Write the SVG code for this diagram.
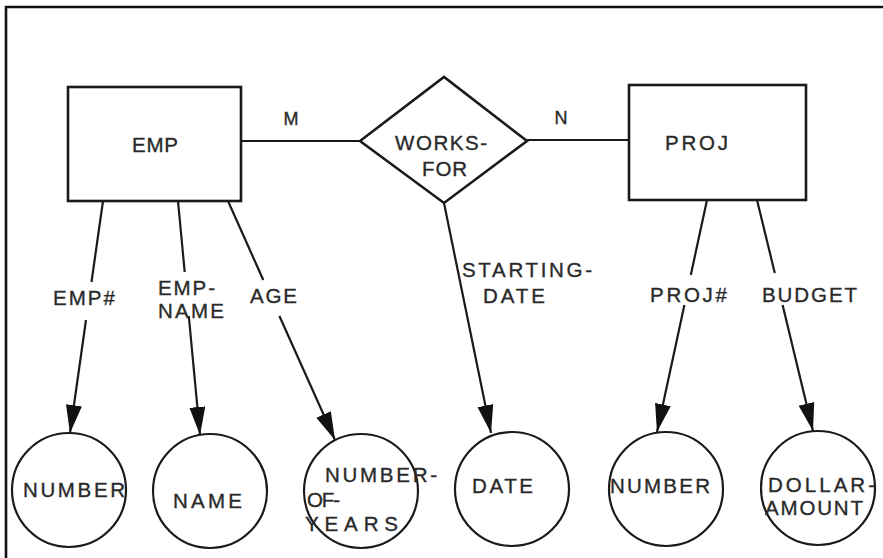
<svg xmlns="http://www.w3.org/2000/svg" width="883" height="558" viewBox="0 0 883 558">
  <style>
    .box { fill: #fff; stroke: #1a1a1a; stroke-width: 2.6; }
    .attr { fill: #fff; stroke: #1a1a1a; stroke-width: 2.2; }
    .edge { fill: none; stroke: #1a1a1a; stroke-width: 2.2; }
    .frame { fill: none; stroke: #111; stroke-width: 2.6; }
    text { font-family: "Liberation Sans", Arial, sans-serif; font-size: 20.5px; fill: #2a2a2a; stroke: #2a2a2a; stroke-width: 0.35; }
    .card { font-size: 18px; }
  </style>
  <defs>
    <marker id="arrow" markerUnits="userSpaceOnUse" markerWidth="30" markerHeight="18" refX="28" refY="8" orient="auto">
      <path d="M0,0 L28,8 L0,16 z" fill="#111"/>
    </marker>
  </defs>
  <rect width="883" height="558" fill="#fff"/>
  <!-- page frame -->
  <path class="frame" d="M6,558 L6,7 L883,7"/>

  <!-- connectors -->
  <g id="connectors">
    <line class="edge" x1="241" y1="141" x2="360" y2="141"/>
    <line class="edge" x1="527" y1="140" x2="629" y2="140"/>
    <!-- EMP# -->
    <line class="edge" x1="103" y1="201" x2="91.5" y2="282"/>
    <line class="edge" x1="86" y1="320" x2="70" y2="433" marker-end="url(#arrow)"/>
    <!-- EMP-NAME -->
    <line class="edge" x1="178" y1="201" x2="184.7" y2="272"/>
    <line class="edge" x1="188.8" y1="316" x2="200" y2="435" marker-end="url(#arrow)"/>
    <!-- AGE -->
    <line class="edge" x1="228" y1="201" x2="263.3" y2="280"/>
    <line class="edge" x1="279.4" y1="316" x2="335" y2="440" marker-end="url(#arrow)"/>
    <!-- STARTING-DATE -->
    <line class="edge" x1="444" y1="203" x2="491" y2="433" marker-end="url(#arrow)"/>
    <!-- PROJ# -->
    <line class="edge" x1="707" y1="200" x2="690.8" y2="275"/>
    <line class="edge" x1="684.4" y1="305" x2="657" y2="432" marker-end="url(#arrow)"/>
    <!-- BUDGET -->
    <line class="edge" x1="757" y1="200" x2="774.8" y2="273"/>
    <line class="edge" x1="782.6" y1="305" x2="813" y2="431" marker-end="url(#arrow)"/>
    <!-- cardinalities and attribute names -->
    <text class="card" x="291" y="125" text-anchor="middle">M</text>
    <text class="card" x="561" y="124" text-anchor="middle">N</text>
    <text x="53" y="305" textLength="62">EMP#</text>
    <text x="158" y="295" textLength="57">EMP-</text>
    <text x="158" y="318" textLength="66">NAME</text>
    <text x="250" y="303" textLength="47">AGE</text>
    <text x="462" y="277" textLength="130">STARTING-</text>
    <text x="483" y="303" textLength="62">DATE</text>
    <text x="650" y="302" textLength="77">PROJ#</text>
    <text x="762" y="302" textLength="95">BUDGET</text>
  </g>

  <!-- entities and relationship -->
  <g id="emp">
    <rect class="box" x="68" y="87" width="173" height="114"/>
    <text x="132" y="152" textLength="46">EMP</text>
  </g>
  <g id="works-for">
    <polygon class="box" points="360,141 444,77 527,141 444,203"/>
    <text x="395" y="150" textLength="92">WORKS-</text>
    <text x="422" y="176" textLength="45">FOR</text>
  </g>
  <g id="proj">
    <rect class="box" x="629" y="85" width="177" height="115"/>
    <text x="665" y="150" textLength="63">PROJ</text>
  </g>

  <!-- value sets -->
  <g id="emp-number">
    <circle class="attr" cx="69" cy="490" r="57"/>
    <text x="23" y="497" textLength="102">NUMBER</text>
  </g>
  <g id="emp-name">
    <circle class="attr" cx="210" cy="491" r="57"/>
    <text x="173" y="508" textLength="69">NAME</text>
  </g>
  <g id="number-of-years">
    <circle class="attr" cx="361" cy="491" r="57"/>
    <text x="325" y="482" textLength="112">NUMBER-</text>
    <text x="307" y="507" textLength="33">OF-</text>
    <text x="305" y="531" textLength="93">YEARS</text>
  </g>
  <g id="date">
    <circle class="attr" cx="512" cy="489" r="57"/>
    <text x="472" y="493" textLength="61">DATE</text>
  </g>
  <g id="proj-number">
    <circle class="attr" cx="666" cy="489" r="57"/>
    <text x="610" y="493" textLength="100">NUMBER</text>
  </g>
  <g id="dollar-amount">
    <circle class="attr" cx="818" cy="488" r="57"/>
    <text x="768" y="492" textLength="107">DOLLAR-</text>
    <text x="765" y="515" textLength="98">AMOUNT</text>
  </g>
</svg>
